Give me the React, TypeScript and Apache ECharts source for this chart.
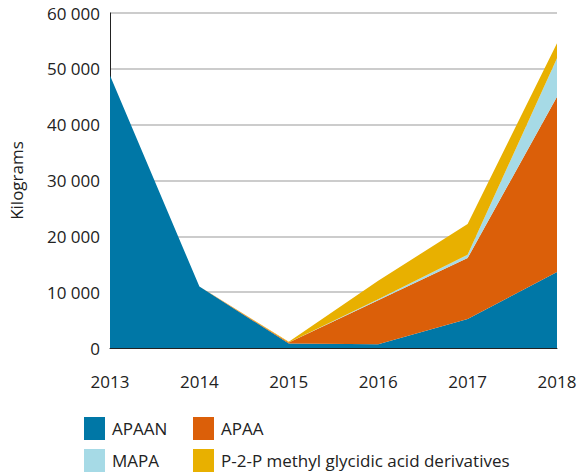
import React, { useEffect, useRef } from "react";
import * as echarts from "echarts";

const years = ["2013", "2014", "2015", "2016", "2017", "2018"];
const apaan = [48800, 11000, 800, 650, 5200, 13600];
const apaa = [0, 0, 200, 7900, 10900, 31400];
const mapa = [0, 0, 0, 200, 600, 6900];
const p2p = [0, 0, 100, 3300, 5500, 2700];

const FONT = "'Open Sans', 'Noto Sans', sans-serif";

export default function App() {
  const ref = useRef<HTMLDivElement>(null);
  useEffect(() => {
    if (!ref.current) return;
    const chart = echarts.init(ref.current, undefined, { renderer: "svg" });
    const mk = (name: string, data: number[], color: string) => ({
      name,
      type: "line",
      stack: "total",
      data,
      symbol: "none",
      lineStyle: { width: 0 },
      areaStyle: { color, opacity: 1 },
      itemStyle: { color },
    });
    const leg = (name: string, left: number, top: number) => ({
      data: [name],
      orient: "horizontal",
      left,
      top,
      padding: 0,
      itemWidth: 21,
      itemHeight: 23,
      itemGap: 0,
      icon: "rect",
      textStyle: { color: "#222", fontSize: 17, fontFamily: FONT, padding: [0, 0, 0, 2] },
    });
    chart.setOption({
      animation: false,
      textStyle: { fontFamily: FONT },
      grid: { left: 110, right: 21, top: 13, bottom: 126, containLabel: false, outerBoundsMode: "none" },
      xAxis: {
        type: "category",
        data: years,
        boundaryGap: false,
        axisLine: { lineStyle: { color: "#222", width: 1 } },
        axisTick: { show: false },
        axisLabel: { color: "#222", fontSize: 17, margin: 25, fontFamily: FONT },
      },
      yAxis: {
        type: "value",
        min: 0,
        max: 60000,
        interval: 10000,
        name: "Kilograms",
        nameLocation: "middle",
        nameGap: 85,
        nameTextStyle: { color: "#222", fontSize: 17, fontFamily: FONT },
        axisLine: { show: true, lineStyle: { color: "#222", width: 1 } },
        axisTick: { show: false },
        splitLine: { lineStyle: { color: "#bbb", width: 1.5 } },
        axisLabel: {
          color: "#222",
          fontSize: 17,
          margin: 10,
          fontFamily: FONT,
          formatter: (v: number) =>
            String(v).replace(/\B(?=(\d{3})+(?!\d))/g, " "),
        },
      },
      legend: [
        leg("APAAN", 84, 417),
        leg("MAPA", 84, 449),
        leg("APAA", 193, 417),
        leg("P-2-P methyl glycidic acid derivatives", 193, 449),
      ],
      series: [
        mk("APAAN", apaan, "#0077a6"),
        mk("APAA", apaa, "#db5f09"),
        mk("MAPA", mapa, "#a6dae6"),
        mk("P-2-P methyl glycidic acid derivatives", p2p, "#e8b000"),
      ],
    });
    return () => chart.dispose();
  }, []);
  return <div ref={ref} style={{ width: 578, height: 474, position: "absolute", left: 0, top: 0 }} />;
}
